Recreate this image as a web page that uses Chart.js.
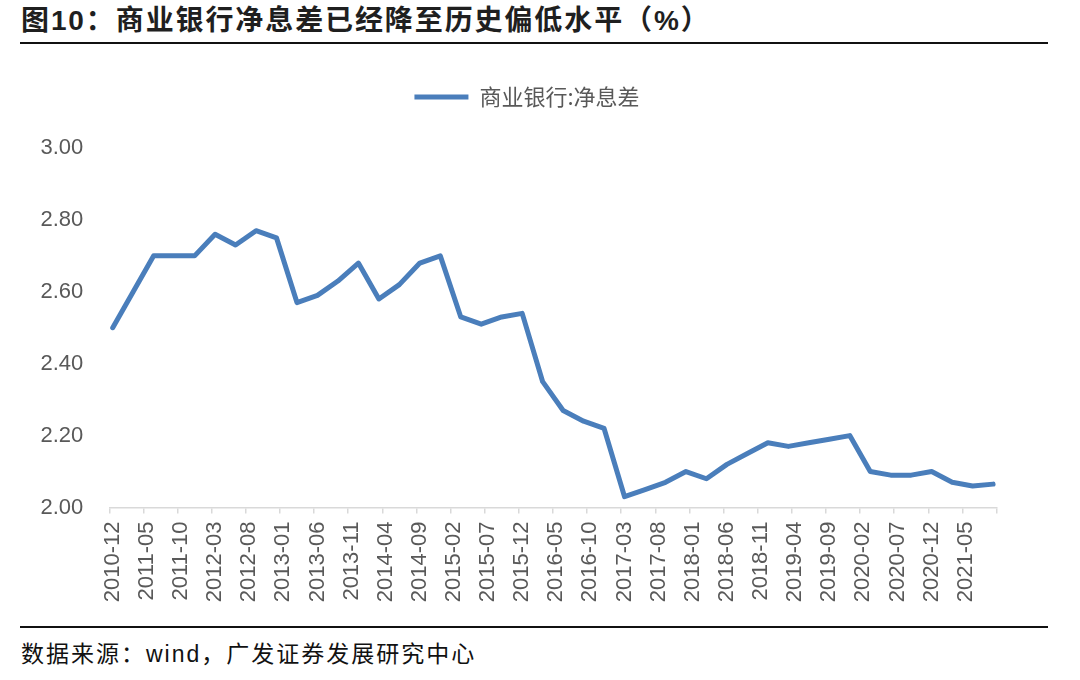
<!DOCTYPE html>
<html><head><meta charset="utf-8">
<script src="https://cdn.jsdelivr.net/npm/chart.js@4.4.0/dist/chart.umd.min.js"></script>
<style>
html,body{margin:0;padding:0;background:#fff;}
body{width:1080px;height:680px;position:relative;overflow:hidden;}
#title{position:absolute;left:21px;top:3px;font-family:"Liberation Sans","Noto Sans CJK SC";font-weight:bold;font-size:28px;letter-spacing:1.9px;color:#1f1f1f;white-space:nowrap;line-height:36px;}
#rule1{position:absolute;left:20px;top:42px;width:1028px;height:2px;background:#111;}
#rule2{position:absolute;left:20px;top:626px;width:1028px;height:2px;background:#111;}
#foot{position:absolute;left:21px;top:638px;font-family:"Liberation Sans","Noto Sans CJK SC";font-size:23px;letter-spacing:2px;color:#111;white-space:nowrap;line-height:32px;}
#wrap{position:absolute;left:0;top:50px;width:1080px;height:570px;}
</style></head>
<body>
<div id="title">图10：商业银行净息差已经降至历史偏低水平（%）</div>
<div id="rule1"></div>
<div id="wrap"><canvas id="c" width="1080" height="570"></canvas></div>
<div id="rule2"></div>
<div id="foot">数据来源：wind，广发证券发展研究中心</div>
<script>
const seriesName = "商业银行:净息差";
const quarterLabels = ["2010-12",
 "2011-03","2011-06","2011-09","2011-12",
 "2012-03","2012-06","2012-09","2012-12",
 "2013-03","2013-06","2013-09","2013-12",
 "2014-03","2014-06","2014-09","2014-12",
 "2015-03","2015-06","2015-09","2015-12",
 "2016-03","2016-06","2016-09","2016-12",
 "2017-03","2017-06","2017-09","2017-12",
 "2018-03","2018-06","2018-09","2018-12",
 "2019-03","2019-06","2019-09","2019-12",
 "2020-03","2020-06","2020-09","2020-12",
 "2021-03","2021-06","2021-09"];
const nimValues = [2.50,
 2.60,2.70,2.70,2.70,
 2.76,2.73,2.77,2.75,
 2.57,2.59,2.63,2.68,
 2.58,2.62,2.68,2.70,
 2.53,2.51,2.53,2.54,
 2.35,2.27,2.24,2.22,
 2.03,2.05,2.07,2.10,
 2.08,2.12,2.15,2.18,
 2.17,2.18,2.19,2.20,
 2.10,2.09,2.09,2.10,
 2.07,2.06,2.065];
const xTickLabels = ["2010-12","2011-05","2011-10","2012-03","2012-08","2013-01","2013-06","2013-11",
 "2014-04","2014-09","2015-02","2015-07","2015-12","2016-05","2016-10","2017-03","2017-08",
 "2018-01","2018-06","2018-11","2019-04","2019-09","2020-02","2020-07","2020-12","2021-05"];
const yTickValues = [2.00,2.20,2.40,2.60,2.80,3.00];

const lineColor = '#4a7ebb';
const base = quarterLabels[0];
function monthIndex(s){const p=s.split('-').map(Number);const b=base.split('-').map(Number);return (p[0]*12+p[1])-(b[0]*12+b[1]);}
const xMin = monthIndex(quarterLabels[0]) - 0.5;
const xMax = monthIndex(quarterLabels[quarterLabels.length-1]) + 0.5;
const xTickValues = xTickLabels.map(l => monthIndex(l) - 0.5).concat([xMax]);

const tickFont = {family:'"Liberation Sans", Arial, sans-serif', size:22};

new Chart(document.getElementById('c'), {
  type:'line',
  data:{datasets:[{
    label: seriesName,
    data: quarterLabels.map((q,i)=>({x:monthIndex(q), y:nimValues[i]})),
    borderColor: lineColor, backgroundColor: lineColor, borderWidth:5,
    pointRadius:0, tension:0, fill:false,
    borderJoinStyle:'round', borderCapStyle:'round'
  }]},
  options:{
    responsive:false, animation:false, devicePixelRatio:1,
    layout:{padding:{left:0,right:26,top:26,bottom:0}},
    plugins:{
      legend:{display:true, position:'top',
        labels:{usePointStyle:true, pointStyle:'line', pointStyleWidth:54, padding:10,
          color:'#595959', font:{family:'"Noto Sans CJK SC", sans-serif', size:22}}},
      tooltip:{enabled:false}
    },
    scales:{
      x:{type:'linear', position:'bottom', min:xMin, max:xMax,
        afterBuildTicks: s => { s.ticks = xTickValues.map(v => ({value:v})); },
        afterFit: s => { s.height = 112.5; },
        grid:{drawOnChartArea:false, drawTicks:true, tickLength:6, color:'#d9d9d9', lineWidth:1.5},
        border:{display:true, color:'#d9d9d9', width:1.5},
        ticks:{autoSkip:false, maxRotation:90, minRotation:90, padding:8, labelOffset:3.4,
          color:'#595959', font:tickFont, callback:(v,i)=> xTickLabels[i] || ''}
      },
      y:{min:yTickValues[0], max:yTickValues[yTickValues.length-1],
        afterBuildTicks: s => { s.ticks = yTickValues.map(v => ({value:v})); },
        afterFit: s => { s.width = 109.3; },
        grid:{display:false, drawTicks:false}, border:{display:false},
        ticks:{padding:26, color:'#595959', font:tickFont, callback:v=>Number(v).toFixed(2)}
      },
      yPad:{position:'right', display:true, afterFit:s=>{s.width=57.5;},
        grid:{display:false, drawTicks:false}, border:{display:false}, ticks:{display:false}},
      xTop:{type:'linear', position:'top', display:true, afterFit:s=>{s.height=30;},
        grid:{display:false, drawTicks:false}, border:{display:false}, ticks:{display:false}}
    }
  }
});
</script>
</body></html>
